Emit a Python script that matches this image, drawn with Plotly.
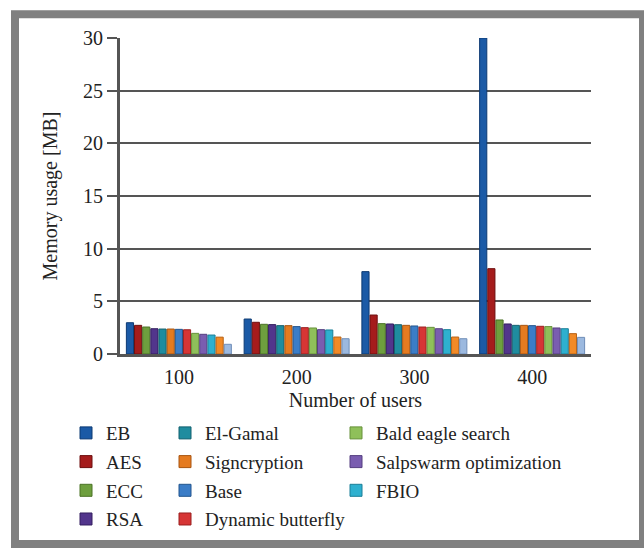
import plotly.graph_objects as go

# Memory usage per scheme for each user count
users = ["100", "200", "300", "400"]

eb = [2.97, 3.32, 7.82, 30.0]
aes = [2.72, 3.01, 3.70, 8.10]
ecc = [2.56, 2.82, 2.88, 3.23]
rsa = [2.40, 2.79, 2.85, 2.85]
el_gamal = [2.37, 2.69, 2.78, 2.72]
signcryption = [2.37, 2.69, 2.72, 2.72]
base = [2.34, 2.60, 2.66, 2.69]
dynamic_butterfly = [2.30, 2.50, 2.56, 2.63]
bald_eagle = [1.96, 2.47, 2.53, 2.60]
salpswarm = [1.87, 2.31, 2.40, 2.47]
fbio = [1.80, 2.28, 2.31, 2.40]
extra_a = [1.60, 1.61, 1.61, 1.93]
extra_b = [0.92, 1.45, 1.45, 1.58]

series = [
    ("EB", eb, "#1b5aa6", "#0d3a73", "legend"),
    ("AES", aes, "#a51c1c", "#6e0f0f", "legend"),
    ("ECC", ecc, "#6e9f3e", "#4a7225", "legend"),
    ("RSA", rsa, "#52358c", "#341f60", "legend"),
    ("El-Gamal", el_gamal, "#1f8c9f", "#12606e", "legend2"),
    ("Signcryption", signcryption, "#e57b20", "#a85510", "legend2"),
    ("Base", base, "#3b7dc7", "#22558e", "legend2"),
    ("Dynamic butterfly", dynamic_butterfly, "#d63535", "#9a1f1f", "legend2"),
    ("Bald eagle search", bald_eagle, "#8fc05a", "#66913a", "legend3"),
    ("Salpswarm optimization", salpswarm, "#7a5db0", "#553f80", "legend3"),
    ("FBIO", fbio, "#2eb0cf", "#1a7f98", "legend3"),
    ("", extra_a, "#f28a26", "#b86214", None),
    ("", extra_b, "#9cb9df", "#6f8db8", None),
]

W, H = 644, 550
L, R, T, B = 120, 53, 38, 191
PW, PH = W - L - R, H - T - B


def px_x(px):
    return (px - L) / PW


def px_y(py):
    return (H - B - py) / PH


FONT = "Liberation Serif, Times New Roman, serif"

fig = go.Figure()
for name, vals, color, edge, leg in series:
    kw = dict(showlegend=False) if leg is None else dict(legend=leg, legendgroup=name)
    fig.add_trace(go.Bar(
        x=users, y=vals, name=name,
        marker=dict(color=color, line=dict(color=edge, width=1)),
        **kw,
    ))

legend_common = dict(
    orientation="v", xanchor="left", yanchor="top",
    font=dict(family=FONT, size=19, color="#222"),
    bgcolor="rgba(0,0,0,0)", tracegroupgap=1, itemclick=False,
)

fig.update_layout(
    width=W, height=H,
    margin=dict(l=L, r=R, t=T, b=B),
    paper_bgcolor="white", plot_bgcolor="white",
    barmode="group", bargap=0.1, bargroupgap=0.12,
    font=dict(family=FONT, size=19, color="#222"),
    legend=dict(x=px_x(66), y=px_y(420), **legend_common),
    legend2=dict(x=px_x(165), y=px_y(420), **legend_common),
    legend3=dict(x=px_x(336), y=px_y(420), **legend_common),
    xaxis=dict(
        showgrid=False, showline=True, linecolor="#555", linewidth=3,
        ticks="", ticklabelstandoff=3,
        tickfont=dict(family=FONT, size=20, color="#222"),
        title=dict(text="Number of users", font=dict(family=FONT, size=20, color="#222"), standoff=6),
    ),
    yaxis=dict(
        range=[0, 30], tick0=0, dtick=5,
        showgrid=True, gridcolor="#555", gridwidth=2,
        zeroline=False, showline=True, linecolor="#555", linewidth=3,
        ticks="outside", ticklen=10, tickcolor="#555", tickwidth=2,
        tickfont=dict(family=FONT, size=20, color="#222"),
        title=dict(text="Memory usage [MB]", font=dict(family=FONT, size=20, color="#222"), standoff=21),
    ),
    shapes=[dict(
        type="rect", xref="paper", yref="paper",
        x0=px_x(15), x1=px_x(643), y0=px_y(552), y1=px_y(14),
        line=dict(color="#808080", width=8), fillcolor="rgba(0,0,0,0)", layer="below",
    )],
)

fig.write_html("out.html")
